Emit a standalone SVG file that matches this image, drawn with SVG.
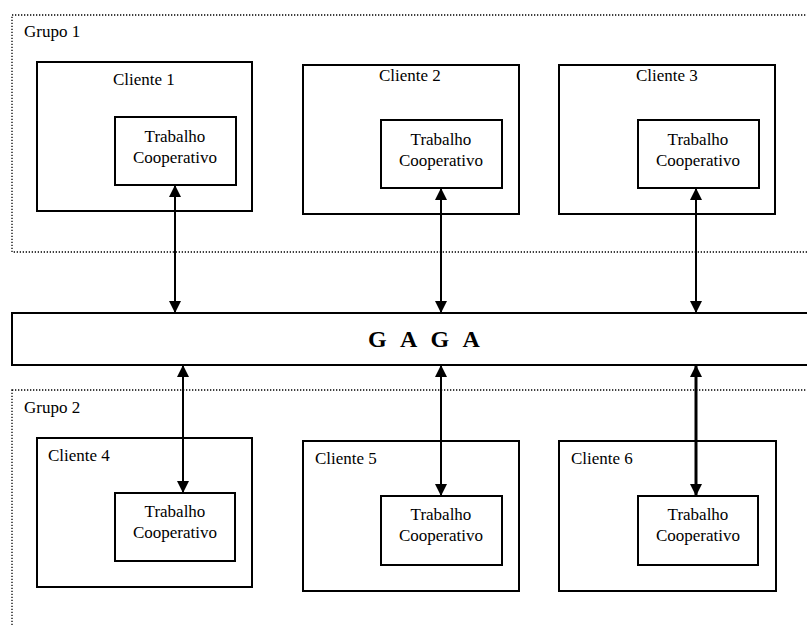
<svg xmlns="http://www.w3.org/2000/svg" width="807" height="626" viewBox="0 0 807 626">
<style>
text{font-family:"Liberation Serif","Times New Roman",serif;fill:#000;font-size:17px}
.grp{fill:none;stroke:#000;stroke-width:1.3;stroke-dasharray:1.3 1.7}
.box{fill:#fff;stroke:#000;stroke-width:2}
.tc{text-anchor:middle}
.conn{stroke:#000;stroke-width:2;fill:none;marker-start:url(#ah);marker-end:url(#ah)}
.gaga{font-weight:bold;font-size:24px;letter-spacing:4.3px}
</style>
<defs>
<marker id="ah" viewBox="0 0 12 12" refX="11" refY="6" markerWidth="12" markerHeight="12" markerUnits="userSpaceOnUse" orient="auto-start-reverse">
<path d="M0,0 L12,6 L0,12 z" fill="#000"/>
</marker>
</defs>
<g id="grupo1">
<rect class="grp" x="12" y="15" width="810" height="237"/>
<text x="24" y="37">Grupo 1</text>
</g>
<g id="grupo2">
<rect class="grp" x="12" y="390" width="810" height="260"/>
<text x="24" y="413">Grupo 2</text>
</g>
<g id="gaga">
<rect class="box" x="12" y="313" width="810" height="52"/>
<text class="gaga" x="368" y="347">G A G A</text>
</g>
<g id="cliente1">
<rect class="box" x="37" y="62" width="215" height="149"/>
<text x="113" y="85">Cliente 1</text>
<rect class="box" x="115" y="117" width="121" height="68"/>
<text class="tc" x="175" y="142">Trabalho</text>
<text class="tc" x="175" y="163">Cooperativo</text>
</g>
<g id="cliente2">
<rect class="box" x="303" y="65" width="216" height="149"/>
<text x="379" y="81">Cliente 2</text>
<rect class="box" x="381" y="120" width="121" height="68"/>
<text class="tc" x="441" y="145">Trabalho</text>
<text class="tc" x="441" y="166">Cooperativo</text>
</g>
<g id="cliente3">
<rect class="box" x="559" y="65" width="216" height="149"/>
<text x="636" y="81">Cliente 3</text>
<rect class="box" x="638" y="120" width="121" height="68"/>
<text class="tc" x="698" y="145">Trabalho</text>
<text class="tc" x="698" y="166">Cooperativo</text>
</g>
<g id="cliente4">
<rect class="box" x="37" y="438" width="215" height="149"/>
<text x="48" y="461">Cliente 4</text>
<rect class="box" x="115" y="493" width="120" height="68"/>
<text class="tc" x="175" y="517">Trabalho</text>
<text class="tc" x="175" y="538">Cooperativo</text>
</g>
<g id="cliente5">
<rect class="box" x="303" y="441" width="216" height="150"/>
<text x="315" y="464">Cliente 5</text>
<rect class="box" x="381" y="496" width="121" height="69"/>
<text class="tc" x="441" y="520">Trabalho</text>
<text class="tc" x="441" y="541">Cooperativo</text>
</g>
<g id="cliente6">
<rect class="box" x="559" y="441" width="217" height="150"/>
<text x="571" y="464">Cliente 6</text>
<rect class="box" x="638" y="496" width="120" height="69"/>
<text class="tc" x="698" y="520">Trabalho</text>
<text class="tc" x="698" y="541">Cooperativo</text>
</g>
<g id="connectors">
<line class="conn" x1="175" y1="186" x2="175" y2="312"/>
<line class="conn" x1="441" y1="189" x2="441" y2="312"/>
<line class="conn" x1="696" y1="189" x2="696" y2="312"/>
<line class="conn" x1="183" y1="366" x2="183" y2="492"/>
<line class="conn" x1="441" y1="366" x2="441" y2="495"/>
<line class="conn" x1="696" y1="366" x2="696" y2="495" style="stroke-width:3"/>
</g>
</svg>
